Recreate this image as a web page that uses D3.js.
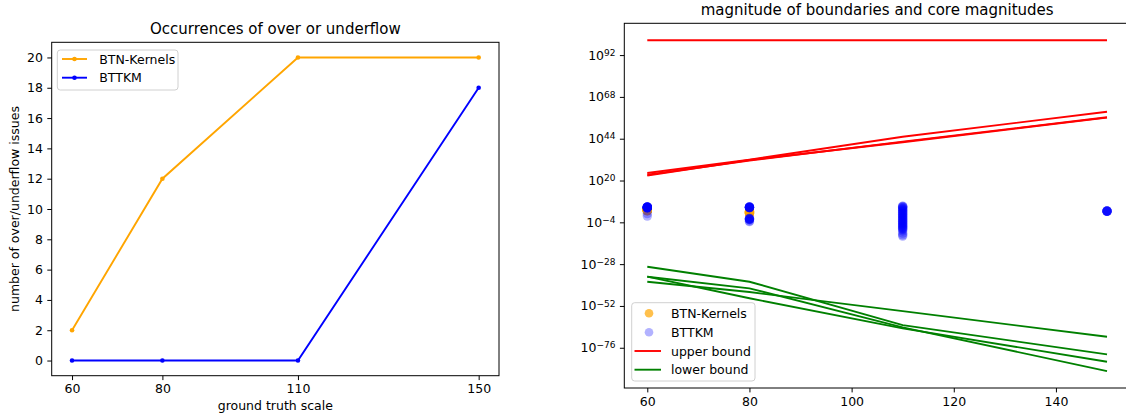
<!DOCTYPE html>
<html>
<head>
<meta charset="utf-8">
<script src="https://cdn.jsdelivr.net/npm/d3@7/dist/d3.min.js"></script>
<style>
  html, body { margin: 0; padding: 0; background: #fff; }
  svg { display: block; font-family: "DejaVu Sans", sans-serif; }
</style>
</head>
<body>
<svg id="chart" width="1126" height="418"></svg>
<script>
// ---------- DATA ----------
// Left chart
const scales = [60, 80, 110, 150];
const btnCounts = [2, 12, 20, 20];
const bttkmCounts = [0, 0, 0, 18];
const leftYTicks = [0, 2, 4, 6, 8, 10, 12, 14, 16, 18, 20];

// Right chart (values given as base-10 exponents)
const rightXTicks = [60, 80, 100, 120, 140];
const rightYTickExps = [-76, -52, -28, -4, 20, 44, 68, 92];

const btnScatterX = [60,60,60,60,60,60,60,60,60,60,60,60,60,60,60,60,60,60,
                     80,80,80,80,80,80,80,80];
const btnScatterExp = [3.6,3.4,3.2,3.0,2.8,2.6,3.5,3.3,3.1,2.9,2.7,3.6,3.4,3.2,3.0,2.8,3.5,3.3,
                       2.4,2.0,1.6,1.2,2.2,1.8,1.4,1.0];

const bttkmScatterX = [60,60,60,60,60,60,60,60,60,60,60,60,60,60,60,60,60,60,60,60,
                       80,80,80,80,80,80,80,80,80,80,80,80,80,80,80,80,80,80,80,80,
                       110,110,110,110,110,110,110,110,110,110,110,110,110,110,110,110,110,110,110,110,
                       110,110,110,110,110,110,110,110,110,110,110,110,110,110,110,110,110,110,110,110,
                       150,150,150,150,150,150,150,150];
const bttkmScatterExp = [4.9,4.8,4.7,4.6,4.5,4.4,4.3,4.8,4.6,4.5,4.7,4.4,4.6,4.5,4.8,4.3,4.6,4.5,1.0,-0.4,
                         4.9,4.8,4.7,4.6,4.5,4.4,4.6,4.5,4.8,4.3,4.7,-1.6,-1.8,-2.0,-2.1,-2.2,-2.4,-2.5,-3.2,-3.6,
                         5.3,5.1,4.9,4.6,4.2,3.8,3.4,3.0,2.6,2.2,1.8,1.4,1.0,0.6,0.2,-0.2,-0.6,-1.0,-1.4,-1.8,
                         -2.2,-2.6,-3.0,-3.4,-3.8,-4.2,-4.6,-5.0,-5.4,-5.8,-6.2,-6.6,-7.0,-7.4,-7.8,-8.2,-9.0,-10.2,-11.2,-11.9,
                         2.6,2.5,2.4,2.3,2.5,2.4,2.3,2.4];

const upperBounds = [
  [100.5, 100.5, 100.5, 100.5],
  [24.3, 32.0, 45.1, 59.5],
  [23.3, 31.5, 42.3, 56.3],
  [22.8, 31.8, 42.0, 56.1]
];
const lowerBounds = [
  [-29.5, -38.1, -63.0, -79.8],
  [-35.2, -41.9, -64.3, -89.4],
  [-35.2, -47.6, -64.9, -84.0],
  [-38.1, -44.0, -55.0, -69.7]
];

// ---------- DRAW ----------
const svg = d3.select("#chart");
const FONT = 12.5;
const TICK = 4.4;

function styleAxis(g) {
  g.select(".domain").remove();
  g.selectAll(".tick line").attr("stroke", "#000").attr("stroke-width", 1);
  g.selectAll(".tick text").attr("fill", "#000").attr("font-size", FONT)
    .attr("font-family", "DejaVu Sans, sans-serif");
}

// ===== Left chart =====
const L = { left: 51.7, right: 499, top: 42.3, bottom: 375.7 };
const lx = d3.scaleLinear().domain([55.5, 154.5]).range([L.left, L.right]);
const ly = d3.scaleLinear().domain([-1, 21]).range([L.bottom, L.top]);

const left = svg.append("g");

const lineL = d3.line().x((d, i) => lx(scales[i])).y(d => ly(d));

left.append("path").datum(btnCounts).attr("d", lineL)
  .attr("fill", "none").attr("stroke", "orange").attr("stroke-width", 1.9);
left.selectAll(".btnpt").data(btnCounts).enter().append("circle")
  .attr("cx", (d, i) => lx(scales[i])).attr("cy", d => ly(d)).attr("r", 2.3).attr("fill", "orange");

left.append("path").datum(bttkmCounts).attr("d", lineL)
  .attr("fill", "none").attr("stroke", "blue").attr("stroke-width", 1.9);
left.selectAll(".bttpt").data(bttkmCounts).enter().append("circle")
  .attr("cx", (d, i) => lx(scales[i])).attr("cy", d => ly(d)).attr("r", 2.3).attr("fill", "blue");

left.append("g").attr("transform", `translate(0,${L.bottom})`)
  .call(d3.axisBottom(lx).tickValues(scales).tickSize(TICK).tickPadding(4.4).tickSizeOuter(0))
  .call(styleAxis);
left.append("g").attr("transform", `translate(${L.left},0)`)
  .call(d3.axisLeft(ly).tickValues(leftYTicks).tickSize(TICK).tickPadding(4.4).tickSizeOuter(0))
  .call(styleAxis);

left.append("rect").attr("x", L.left).attr("y", L.top)
  .attr("width", L.right - L.left).attr("height", L.bottom - L.top)
  .attr("fill", "none").attr("stroke", "#000").attr("stroke-width", 1);

left.append("text").attr("x", (L.left + L.right) / 2).attr("y", 33.5)
  .attr("text-anchor", "middle").attr("font-size", 15).attr("fill", "#000")
  .text("Occurrences of over or underflow");
left.append("text").attr("x", (L.left + L.right) / 2).attr("y", 410)
  .attr("text-anchor", "middle").attr("font-size", FONT).attr("fill", "#000")
  .text("ground truth scale");
left.append("text").attr("transform", `translate(18.5,${(L.top + L.bottom) / 2}) rotate(-90)`)
  .attr("text-anchor", "middle").attr("font-size", FONT).attr("fill", "#000")
  .text("number of over/underflow issues");

// left legend
const lg = left.append("g");
lg.append("rect").attr("x", 57.3).attr("y", 50).attr("width", 120.7).attr("height", 40)
  .attr("rx", 3).attr("fill", "#fff").attr("fill-opacity", 0.8)
  .attr("stroke", "#d0d0d0").attr("stroke-width", 1);
[["BTN-Kernels", "orange", 59], ["BTTKM", "blue", 77.7]].forEach(([name, col, yy]) => {
  lg.append("line").attr("x1", 62).attr("x2", 87).attr("y1", yy).attr("y2", yy)
    .attr("stroke", col).attr("stroke-width", 1.9);
  lg.append("circle").attr("cx", 74.5).attr("cy", yy).attr("r", 2.3).attr("fill", col);
  lg.append("text").attr("x", 99.3).attr("y", yy + 4.5).attr("font-size", FONT)
    .attr("fill", "#000").text(name);
});

// ===== Right chart =====
const R = { left: 624.3, right: 1130, top: 23.3, bottom: 388 };
const rx = d3.scaleLinear().domain([55.5, 154.5]).range([R.left, R.right]);
const ry = d3.scaleLog().domain([Math.pow(10, -99.1), Math.pow(10, 110.25)]).range([R.bottom, R.top]);
const pw = e => Math.pow(10, e);

const right = svg.append("g");

right.selectAll(".btnsc").data(btnScatterExp).enter().append("circle")
  .attr("cx", (d, i) => rx(btnScatterX[i])).attr("cy", d => ry(pw(d)))
  .attr("r", 4.7).attr("fill", "orange").attr("fill-opacity", 0.7);
right.selectAll(".bttsc").data(bttkmScatterExp).enter().append("circle")
  .attr("cx", (d, i) => rx(bttkmScatterX[i])).attr("cy", d => ry(pw(d)))
  .attr("r", 4.7).attr("fill", "blue").attr("fill-opacity", 0.3);

const lineR = d3.line().x((d, i) => rx(scales[i])).y(d => ry(pw(d)));
upperBounds.forEach(s => right.append("path").datum(s).attr("d", lineR)
  .attr("fill", "none").attr("stroke", "red").attr("stroke-width", 1.9));
lowerBounds.forEach(s => right.append("path").datum(s).attr("d", lineR)
  .attr("fill", "none").attr("stroke", "green").attr("stroke-width", 1.9));

right.append("g").attr("transform", `translate(0,${R.bottom})`)
  .call(d3.axisBottom(rx).tickValues(rightXTicks).tickSize(TICK).tickPadding(4.4).tickSizeOuter(0))
  .call(styleAxis);
const yAx = right.append("g").attr("transform", `translate(${R.left},0)`)
  .call(d3.axisLeft(ry).tickValues(rightYTickExps.map(pw)).tickFormat(() => "")
    .tickSize(TICK).tickPadding(4.4).tickSizeOuter(0))
  .call(styleAxis);
yAx.selectAll(".tick text").each(function(d, i) {
  const e = rightYTickExps[i];
  const t = d3.select(this);
  t.text(null);
  t.append("tspan").text("10");
  t.append("tspan").attr("dy", "-0.42em").attr("font-size", "0.72em")
    .text(e < 0 ? "\u2212" + Math.abs(e) : String(e));
});

right.append("rect").attr("x", R.left).attr("y", R.top)
  .attr("width", R.right - R.left).attr("height", R.bottom - R.top)
  .attr("fill", "none").attr("stroke", "#000").attr("stroke-width", 1);

right.append("text").attr("x", (R.left + R.right) / 2).attr("y", 15)
  .attr("text-anchor", "middle").attr("font-size", 15).attr("fill", "#000")
  .text("magnitude of boundaries and core magnitudes");

// right legend
const rg = right.append("g");
rg.append("rect").attr("x", 631.7).attr("y", 302.7).attr("width", 123.3).attr("height", 78.3)
  .attr("rx", 3).attr("fill", "#fff").attr("fill-opacity", 0.8)
  .attr("stroke", "#d0d0d0").attr("stroke-width", 1);
const legR = [
  { name: "BTN-Kernels", type: "dot", col: "orange", op: 0.7, y: 313.3 },
  { name: "BTTKM", type: "dot", col: "blue", op: 0.3, y: 332.3 },
  { name: "upper bound", type: "line", col: "red", op: 1, y: 351 },
  { name: "lower bound", type: "line", col: "green", op: 1, y: 369.7 }
];
legR.forEach(d => {
  if (d.type === "dot") {
    rg.append("circle").attr("cx", 649).attr("cy", d.y).attr("r", 4.3)
      .attr("fill", d.col).attr("fill-opacity", d.op);
  } else {
    rg.append("line").attr("x1", 634.5).attr("x2", 661).attr("y1", d.y).attr("y2", d.y)
      .attr("stroke", d.col).attr("stroke-width", 1.9);
  }
  rg.append("text").attr("x", 671).attr("y", d.y + 4.5).attr("font-size", FONT)
    .attr("fill", "#000").text(d.name);
});
</script>
</body>
</html>
